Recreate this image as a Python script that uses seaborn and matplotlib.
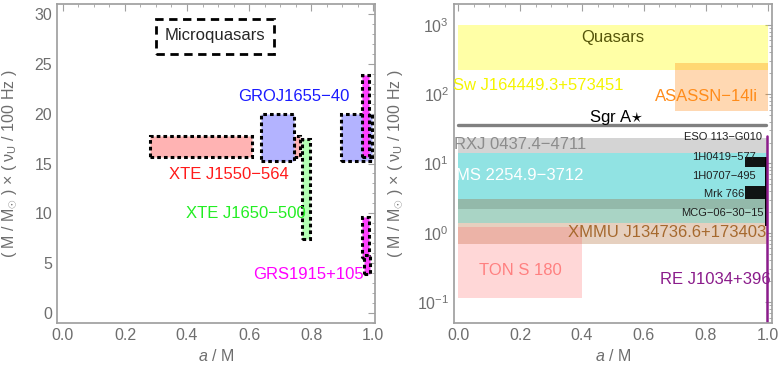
import numpy as np
import pandas as pd
import seaborn as sns
import matplotlib.pyplot as plt
from matplotlib.patches import Rectangle
from matplotlib.ticker import MultipleLocator, LogLocator, NullFormatter

# ---- left panel: microquasar boxes (a/M range, scaled frequency range)
mq_names = ["XTE J1550-564", "XTE J1550-564", "GROJ1655-40", "GROJ1655-40",
            "XTE J1650-500", "GRS1915+105", "GRS1915+105", "GRS1915+105"]
mq_a_lo = [0.28, 0.745, 0.64, 0.895, 0.77, 0.965, 0.965, 0.972]
mq_a_hi = [0.61, 0.765, 0.745, 0.995, 0.797, 0.987, 0.987, 0.990]
mq_f_lo = [15.7, 15.7, 15.3, 15.3, 7.4, 15.7, 5.5, 3.9]
mq_f_hi = [17.8, 17.8, 20.0, 20.0, 17.5, 23.9, 9.6, 5.8]
mq_fill = ["#ffb3b3", "#ffb3b3", "#b3b3ff", "#b3b3ff", "#b3ffb3",
           "#ff40ff", "#ff40ff", "#ff40ff"]

mq_label = ["GROJ1655\u221240", "XTE J1550\u2212564", "XTE J1650\u2212500", "GRS1915+105"]
mq_label_x = [0.743, 0.535, 0.59, 0.79]
mq_label_y = [21.7, 13.9, 10.0, 3.9]
mq_label_c = ["#1a1aff", "#ff1a1a", "#22ee22", "#ff00ff"]

# ---- right panel: AGN / TDE bands
agn_names = ["Quasars", "ASASSN-14li", "RXJ 0437.4-4711", "MS 2254.9-3712",
             "band a", "MCG-06-30-15", "XMMU J134736.6+173403", "TON S 180",
             "1H0419-577", "Mrk 766", "1H0707-495"]
agn_a_lo = [0.0, 0.70, 0.0, 0.0, 0.0, 0.0, 0.0, 0.0, 0.925, 0.925, 0.99]
agn_a_hi = [1.0, 1.0, 1.0, 1.0, 1.0, 1.0, 1.0, 0.40, 1.0, 1.0, 0.998]
agn_f_lo = [220, 57, 14, 3.1, 2.2, 1.4, 0.70, 0.115, 8.9, 3.1, 1.26]
agn_f_hi = [1000, 280, 23, 14, 3.1, 2.2, 1.4, 1.2, 12.3, 4.8, 12.3]
agn_fill = ["#ffff00", "#ff8000", "#d4d4d4", "#91e3e3", "#93b9aa", "#a9d4c5",
            "#e6d0bf", "#ff6060", "#101414", "#101414", "#000000"]
agn_alpha = [0.35, 0.3, 1, 1, 1, 1, 1, 0.25, 1, 1, 1]

sgr_f = 35.5
rej_f = [25, 0.01]

big_text = ["Quasars", "Sw J164449.3+573451", "ASASSN\u221214li", "Sgr A$\\star$",
            "RXJ 0437.4\u22124711", "MS 2254.9\u22123712",
            "XMMU J134736.6+173403", "TON S 180", "RE J1034+396"]
big_x = [0.5, 0.26, 0.80, 0.51, 0.20, 0.20, 0.675, 0.20, 0.83]
big_y = [650, 135, 92, 46, 19, 6.8, 1.0, 0.29, 0.21]
big_c = ["#55550a", "#f5f500", "#ff8c1a", "black", "#8c8c8c", "white",
         "#a6692e", "#ff8080", "#8b1c8b"]

small_text = ["ESO 113\u2212G010", "1H0419\u2212577", "1H0707\u2212495", "Mrk 766",
              "MCG\u221206\u221230\u221215"]
small_x = [0.98, 0.961, 0.961, 0.923, 0.987]
small_y = [24, 12.4, 6.7, 3.6, 1.95]

sns.set_theme(style="white")
plt.rcParams["font.family"] = ["Liberation Sans", "DejaVu Sans"]
plt.rcParams["mathtext.fontset"] = "custom"
plt.rcParams["mathtext.rm"] = "Liberation Sans"
plt.rcParams["mathtext.it"] = "Liberation Sans:italic"

grey = "#6e6e6e"
fig = plt.figure(figsize=(7.84, 3.77), dpi=100)
ax1 = fig.add_axes([57 / 784, 54 / 377, 318 / 784, 319 / 377])
ax2 = fig.add_axes([454 / 784, 54 / 377, 318 / 784, 319 / 377])

ylab = "( M / M$_{\\odot}$ ) \u00d7 ( \u03bd$_{\\mathrm{U}}$ / 100 Hz )"

for ax in (ax1, ax2):
    for s in ax.spines.values():
        s.set_color("#a0a0a0")
    ax.tick_params(which="both", direction="in", top=True, right=True,
                   colors="#a0a0a0", labelcolor=grey, labelsize=11.5)
    ax.tick_params(which="major", length=5, width=0.8)
    ax.tick_params(which="minor", length=2.5, width=0.6)
    ax.set_xlabel("$a$ / M", color=grey, fontsize=11.5)
    ax.set_ylabel(ylab, color=grey, fontsize=11.5)
    ax.xaxis.set_major_locator(MultipleLocator(0.2))
    ax.xaxis.set_minor_locator(MultipleLocator(0.05))
    ax.xaxis.set_major_formatter(lambda v, p: f"{v:.1f}")

# left panel
ax1.set_xlim(-0.019, 1.006)
ax1.set_ylim(-1, 31)
ax1.yaxis.set_major_locator(MultipleLocator(5))
ax1.yaxis.set_minor_locator(MultipleLocator(1))
ax1.yaxis.set_label_coords(-0.12, 0.5)
for x0, x1, y0, y1, c in zip(mq_a_lo, mq_a_hi, mq_f_lo, mq_f_hi, mq_fill):
    ax1.add_patch(Rectangle((x0, y0), x1 - x0, y1 - y0, facecolor=c,
                            edgecolor="black", lw=2.2, ls=(0, (1.2, 1.0))))
ax1.add_patch(Rectangle((0.30, 26.0), 0.38, 3.5, facecolor="none",
                        edgecolor="black", lw=2.0, ls=(0, (3, 2))))
ax1.text(0.49, 27.8, "Microquasars", ha="center", va="center", fontsize=12)
for t, x, y, c in zip(mq_label, mq_label_x, mq_label_y, mq_label_c):
    ax1.text(x, y, t, ha="center", va="center", color=c, fontsize=12)

# right panel
ax2.set_yscale("log")
ax2.set_xlim(-0.013, 1.013)
ax2.set_ylim(10 ** -1.3, 10 ** 3.3)
ax2.yaxis.set_major_locator(LogLocator(base=10, numticks=10))
ax2.yaxis.set_minor_locator(LogLocator(base=10, subs=np.arange(2, 10), numticks=10))
ax2.yaxis.set_minor_formatter(NullFormatter())
for x0, x1, y0, y1, c, al in zip(agn_a_lo, agn_a_hi, agn_f_lo, agn_f_hi, agn_fill, agn_alpha):
    ax2.add_patch(Rectangle((x0, y0), x1 - x0, y1 - y0, facecolor=c, alpha=al, lw=0))

sgr = pd.DataFrame({"a": [0.0, 0.993], "f": [sgr_f, sgr_f]})
sns.lineplot(data=sgr, x="a", y="f", ax=ax2, color="#808080", lw=2.4)
ax2.plot([0.997, 0.997], rej_f, color="#8b1c8b", lw=1.8)

for t, x, y, c in zip(big_text, big_x, big_y, big_c):
    ax2.text(x, y, t, ha="center", va="center", color=c, fontsize=12, clip_on=True)
for t, x, y in zip(small_text, small_x, small_y):
    ax2.text(x, y, t, ha="right", va="center", color="#202020", fontsize=8)

ax2.set_xlabel("$a$ / M", color=grey, fontsize=11.5)
ax2.set_ylabel(ylab, color=grey, fontsize=11.5)
ax2.yaxis.set_label_coords(-0.155, 0.5)

fig.savefig("out.png", dpi=100)
